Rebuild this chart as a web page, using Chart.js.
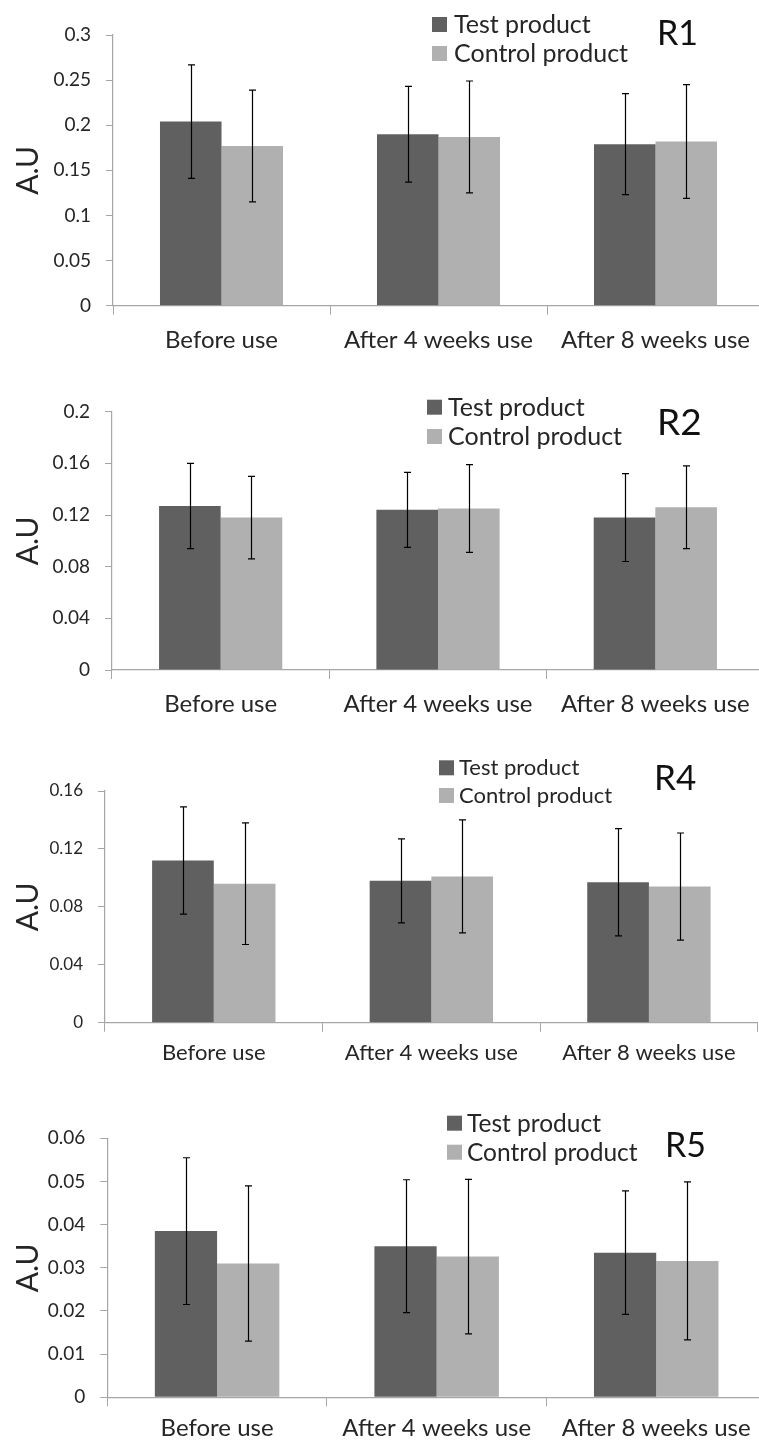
<!DOCTYPE html>
<html>
<head>
<meta charset="utf-8">
<script src="https://cdn.jsdelivr.net/npm/chart.js@4.4.1/dist/chart.umd.min.js"></script>
<style>
  html, body { margin: 0; padding: 0; background: #ffffff; overflow: hidden; width: 759px; height: 1443px; }
  .panel { position: absolute; left: 0; }
  canvas { display: block; }
</style>
</head>
<body>
<div class="panel" style="top:0px"><canvas id="r1" width="770" height="360"></canvas></div>
<div class="panel" style="top:360px"><canvas id="r2" width="770" height="360"></canvas></div>
<div class="panel" style="top:720px"><canvas id="r4" width="770" height="360"></canvas></div>
<div class="panel" style="top:1080px"><canvas id="r5" width="770" height="363"></canvas></div>
<script>
// ---- data ----
const categories = ['Before use', 'After 4 weeks use', 'After 8 weeks use'];
const seriesNames = ['Test product', 'Control product'];

// R1: means and standard deviations
const r1Test = [0.204, 0.190, 0.179];
const r1TestSd = [0.063, 0.053, 0.056];
const r1Control = [0.177, 0.187, 0.182];
const r1ControlSd = [0.062, 0.062, 0.063];
const r1Ticks = [0, 0.05, 0.1, 0.15, 0.2, 0.25, 0.3];

// R2
const r2Test = [0.127, 0.124, 0.118];
const r2TestSd = [0.033, 0.029, 0.034];
const r2Control = [0.118, 0.125, 0.126];
const r2ControlSd = [0.032, 0.034, 0.032];
const r2Ticks = [0, 0.04, 0.08, 0.12, 0.16, 0.2];

// R4
const r4Test = [0.112, 0.098, 0.097];
const r4TestSd = [0.037, 0.029, 0.037];
const r4Control = [0.096, 0.101, 0.094];
const r4ControlSd = [0.042, 0.039, 0.037];
const r4Ticks = [0, 0.04, 0.08, 0.12, 0.16];

// R5
const r5Test = [0.0385, 0.035, 0.0335];
const r5TestSd = [0.017, 0.0154, 0.0143];
const r5Control = [0.031, 0.0326, 0.0316];
const r5ControlSd = [0.018, 0.0179, 0.0183];
const r5Ticks = [0, 0.01, 0.02, 0.03, 0.04, 0.05, 0.06];

// ---- styling ----
const DARK = '#606060';
const LIGHT = '#b0b0b0';
const AXIS = '#a6a6a6';
const TEXT = '#262626';
const FONT = 'Lato';

// error bars drawn at each bar from mean ± sd, via the value scale
const errorBars = {
  id: 'errorBars',
  afterDatasetsDraw(chart) {
    const ctx = chart.ctx;
    const yScale = chart.scales.y;
    ctx.save();
    ctx.strokeStyle = '#000000';
    ctx.lineWidth = 1.2;
    chart.data.datasets.forEach((ds, i) => {
      const meta = chart.getDatasetMeta(i);
      meta.data.forEach((bar, j) => {
        const v = ds.data[j], e = ds.sd[j];
        const yt = yScale.getPixelForValue(v + e);
        const yb = yScale.getPixelForValue(v - e);
        const x = Math.round(bar.x) + 0.5;
        ctx.beginPath();
        ctx.moveTo(x, yt); ctx.lineTo(x, yb);
        ctx.moveTo(x - 3.5, yt); ctx.lineTo(x + 3.5, yt);
        ctx.moveTo(x - 3.5, yb); ctx.lineTo(x + 3.5, yb);
        ctx.stroke();
      });
    });
    ctx.restore();
  }
};

// legend block and panel label
const panelLegend = {
  id: 'panelLegend',
  afterDraw(chart, args, opts) {
    const ctx = chart.ctx;
    ctx.save();
    ctx.textBaseline = 'middle';
    ctx.textAlign = 'left';
    ctx.font = opts.size + 'px ' + FONT;
    chart.data.datasets.forEach((ds, i) => {
      const cy = opts.rows[i];
      ctx.fillStyle = ds.backgroundColor;
      ctx.fillRect(opts.boxX, cy - 7, 15, 15);
      ctx.fillStyle = TEXT;
      ctx.fillText(ds.label, opts.textX, cy + 1);
    });
    ctx.fillStyle = '#111111';
    ctx.font = opts.labelSize + 'px ' + FONT;
    ctx.fillText(opts.label, opts.labelX, opts.labelY);
    ctx.restore();
  }
};

function makePanel(id, test, testSd, control, controlSd, ticks, L) {
  const canvas = document.getElementById(id);
  const W = canvas.width, H = canvas.height;
  return new Chart(canvas, {
    type: 'bar',
    data: {
      labels: categories,
      datasets: [
        { label: seriesNames[0], data: test, sd: testSd, backgroundColor: DARK },
        { label: seriesNames[1], data: control, sd: controlSd, backgroundColor: LIGHT }
      ]
    },
    options: {
      responsive: false,
      animation: false,
      devicePixelRatio: 1,
      layout: { padding: { left: 0, top: L.top, right: W - L.right, bottom: 0 } },
      datasets: { bar: { barPercentage: 1.0, categoryPercentage: 0.567 } },
      plugins: {
        legend: { display: false },
        tooltip: { enabled: false },
        panelLegend: L.legend
      },
      scales: {
        x: {
          afterFit(s) { s.height = H - L.bottom; },
          grid: { display: true, drawOnChartArea: false, drawTicks: true, tickLength: 9, color: AXIS, offset: true },
          border: { display: true, color: AXIS, width: 1.2 },
          ticks: { color: TEXT, font: { family: FONT, size: L.catSize }, padding: L.catPad, maxRotation: 0, autoSkip: false }
        },
        y: {
          min: ticks[0],
          max: ticks[ticks.length - 1],
          afterFit(s) { s.width = L.left; },
          afterBuildTicks(s) { s.ticks = ticks.map(v => ({ value: v })); },
          grid: { display: true, drawOnChartArea: false, drawTicks: true, tickLength: 7, color: AXIS },
          border: { display: true, color: AXIS, width: 1.2 },
          ticks: {
            color: TEXT,
            font: { family: FONT, size: L.tickSize },
            padding: 15,
            callback: v => String(+v.toFixed(4))
          },
          title: {
            display: true,
            text: 'A.U',
            color: TEXT,
            font: { family: FONT, size: 30 },
            padding: { top: L.titlePad, bottom: 0 }
          }
        }
      }
    },
    plugins: [errorBars, panelLegend]
  });
}

makePanel('r1', r1Test, r1TestSd, r1Control, r1ControlSd, r1Ticks, {
  left: 113, top: 35, bottom: 305.7, right: 764, catSize: 24, catPad: 11, tickSize: 19, titlePad: 10,
  legend: { boxX: 432, rows: [24, 53], textX: 454, size: 25, label: 'R1', labelX: 657, labelY: 34, labelSize: 34 }
});
makePanel('r2', r2Test, r2TestSd, r2Control, r2ControlSd, r2Ticks, {
  left: 112, top: 51.7, bottom: 310, right: 764, catSize: 24, catPad: 11, tickSize: 19, titlePad: 10,
  legend: { boxX: 427, rows: [46.7, 76], textX: 448, size: 25, label: 'R2', labelX: 657, labelY: 63, labelSize: 37 }
});
makePanel('r4', r4Test, r4TestSd, r4Control, r4ControlSd, r4Ticks, {
  left: 105, top: 71, bottom: 302.7, right: 757.7, catSize: 22, catPad: 8, tickSize: 17, titlePad: 10,
  legend: { boxX: 439, rows: [47.3, 75], textX: 459, size: 22, label: 'R4', labelX: 654, labelY: 59, labelSize: 35 }
});
makePanel('r5', r5Test, r5TestSd, r5Control, r5ControlSd, r5Ticks, {
  left: 107.3, top: 58.3, bottom: 317.3, right: 766, catSize: 24, catPad: 8, tickSize: 19, titlePad: 10,
  legend: { boxX: 447, rows: [42.7, 71.7], textX: 467, size: 24.5, label: 'R5', labelX: 665, labelY: 66, labelSize: 34 }
});
</script>
</body>
</html>
